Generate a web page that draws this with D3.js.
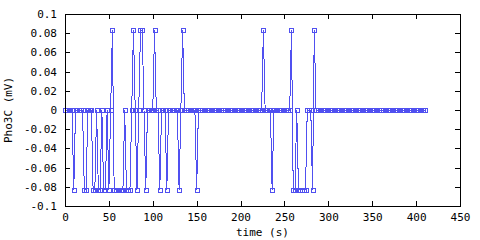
<!DOCTYPE html>
<html>
<head>
<meta charset="utf-8">
<script src="https://cdn.jsdelivr.net/npm/d3@7"></script>
<style>
  body { margin: 0; background: #fff; }
  svg { display: block; }
  .axis text { font-family: "DejaVu Sans Mono", monospace; font-size: 11px; fill: #000; }
  .axis path, .axis line { stroke: #000; shape-rendering: crispEdges; }
</style>
</head>
<body>
<svg id="chart" width="480" height="240"></svg>
<script>
'use strict';

var HI = 0.083, LO = -0.083;

// sample times (s)
var times = [
    0, 2, 4, 6, 8, 10, 12, 14, 16, 18,
    20, 22, 24, 26, 28, 30, 32, 34, 36, 38,
    40, 42, 44, 46, 48, 50, 52, 54, 56, 58,
    60, 62, 64, 66, 68, 70, 72, 74, 76, 78,
    80, 82, 84, 86, 88, 90, 92, 94, 96, 98,
    100, 102, 104, 106, 108, 110, 112, 114, 116, 118,
    120, 122, 124, 126, 128, 130, 132, 134, 136, 138,
    140, 142, 144, 146, 148, 150, 152, 154, 156, 158,
    160, 162, 164, 166, 168, 170, 172, 174, 176, 178,
    180, 182, 184, 186, 188, 190, 192, 194, 196, 198,
    200, 202, 204, 206, 208, 210, 212, 214, 216, 218,
    220, 222, 224, 226, 228, 230, 232, 234, 236, 238,
    240, 242, 244, 246, 248, 250, 252, 254, 256, 258,
    260, 262, 264, 266, 268, 270, 272, 274, 276, 278,
    280, 282, 284, 286, 288, 290, 292, 294, 296, 298,
    300, 302, 304, 306, 308, 310, 312, 314, 316, 318,
    320, 322, 324, 326, 328, 330, 332, 334, 336, 338,
    340, 342, 344, 346, 348, 350, 352, 354, 356, 358,
    360, 362, 364, 366, 368, 370, 372, 374, 376, 378,
    380, 382, 384, 386, 388, 390, 392, 394, 396, 398,
    400, 402, 404, 406, 408, 410
];

// Pho3C (mV), one per sample time
var pho3c = [
    0, 0, 0, 0, 0, LO, 0, 0, 0, 0,            // 0-18
    0, LO, LO, 0, 0, 0, LO, LO, 0, LO,        // 20-38
    LO, 0, LO, LO, 0, LO, 0, HI, LO, LO,      // 40-58
    LO, LO, LO, LO, 0, LO, LO, LO, 0, HI,     // 60-78
    0, LO, 0, HI, HI, 0, LO, 0, 0, 0,         // 80-98
    0, HI, 0, 0, LO, 0, 0, 0, LO, 0,          // 100-118
    0, 0, 0, 0, 0, LO, 0, HI, 0, 0,           // 120-138
    0, 0, 0, 0, 0, LO, 0, 0, 0, 0,            // 140-158
    0, 0, 0, 0, 0, 0, 0, 0, 0, 0,             // 160-178
    0, 0, 0, 0, 0, 0, 0, 0, 0, 0,             // 180-198
    0, 0, 0, 0, 0, 0, 0, 0, 0, 0,             // 200-218
    0, 0, 0, HI, 0, 0, 0, 0, LO, 0,           // 220-238
    0, 0, 0, 0, 0, 0, 0, 0, 0, HI,            // 240-258
    LO, LO, 0, LO, LO, LO, LO, LO, 0, 0,      // 260-278
    0, LO, HI, 0, 0, 0, 0, 0, 0, 0,           // 280-298
    0, 0, 0, 0, 0, 0, 0, 0, 0, 0,             // 300-318
    0, 0, 0, 0, 0, 0, 0, 0, 0, 0,             // 320-338
    0, 0, 0, 0, 0, 0, 0, 0, 0, 0,             // 340-358
    0, 0, 0, 0, 0, 0, 0, 0, 0, 0,             // 360-378
    0, 0, 0, 0, 0, 0, 0, 0, 0, 0,             // 380-398
    0, 0, 0, 0, 0, 0                          // 400-410
];

var xTicks = [0, 50, 100, 150, 200, 250, 300, 350, 400, 450];
var yTicks = [-0.1, -0.08, -0.06, -0.04, -0.02, 0, 0.02, 0.04, 0.06, 0.08, 0.1];

var margin = { top: 14, right: 20, bottom: 34, left: 65 },
    width = 480,
    height = 240,
    innerW = width - margin.left - margin.right,
    innerH = height - margin.top - margin.bottom;

var svg = d3.select('#chart');

var x = d3.scaleLinear().domain([0, 450]).range([0, innerW]);
var y = d3.scaleLinear().domain([-0.1, 0.1]).range([innerH, 0]);

var fmt = function (d) { return String(+d.toFixed(2)); };

var g = svg.append('g')
    .attr('transform', 'translate(' + margin.left + ',' + margin.top + ')');

// ticks point inward on all four sides, labels only bottom/left
g.append('g').attr('class', 'axis')
    .attr('transform', 'translate(0,' + innerH + ')')
    .call(d3.axisBottom(x).tickValues(xTicks).tickFormat(fmt).tickSizeInner(-5).tickSizeOuter(0).tickPadding(7));
g.append('g').attr('class', 'axis')
    .call(d3.axisLeft(y).tickValues(yTicks).tickFormat(fmt).tickSizeInner(-5).tickSizeOuter(0).tickPadding(8));
g.append('g').attr('class', 'axis')
    .call(d3.axisTop(x).tickValues(xTicks).tickFormat('').tickSizeInner(-5).tickSizeOuter(0));
g.append('g').attr('class', 'axis')
    .attr('transform', 'translate(' + innerW + ',0)')
    .call(d3.axisRight(y).tickValues(yTicks).tickFormat('').tickSizeInner(-5).tickSizeOuter(0));

var pts = times.map(function (t, i) { return { t: t, v: pho3c[i] }; });

var line = d3.line()
    .x(function (d) { return x(d.t); })
    .y(function (d) { return y(d.v); });

g.append('path')
    .datum(pts)
    .attr('d', line)
    .attr('fill', 'none')
    .attr('stroke', '#5050f0')
    .attr('stroke-width', 1)
    .style('shape-rendering', 'crispEdges');

g.selectAll('.pt')
    .data(pts)
    .enter().append('rect')
    .attr('class', 'pt')
    .attr('x', function (d) { return Math.round(x(d.t)) - 1.5; })
    .attr('y', function (d) { return Math.round(y(d.v)) - 1.5; })
    .attr('width', 4)
    .attr('height', 4)
    .attr('fill', 'none')
    .attr('stroke', '#5050f0')
    .attr('stroke-width', 1)
    .style('shape-rendering', 'crispEdges');

// frame
g.append('rect')
    .attr('width', innerW)
    .attr('height', innerH)
    .attr('fill', 'none')
    .attr('stroke', '#000')
    .style('shape-rendering', 'crispEdges');

svg.append('text')
    .attr('x', margin.left + innerW / 2)
    .attr('y', 236)
    .attr('text-anchor', 'middle')
    .style('font-family', '"DejaVu Sans Mono", monospace')
    .style('font-size', '11px')
    .text('time (s)');

svg.append('text')
    .attr('transform', 'translate(12,' + (margin.top + innerH / 2) + ') rotate(-90)')
    .attr('text-anchor', 'middle')
    .style('font-family', '"DejaVu Sans Mono", monospace')
    .style('font-size', '11px')
    .text('Pho3C (mV)');
</script>
</body>
</html>
